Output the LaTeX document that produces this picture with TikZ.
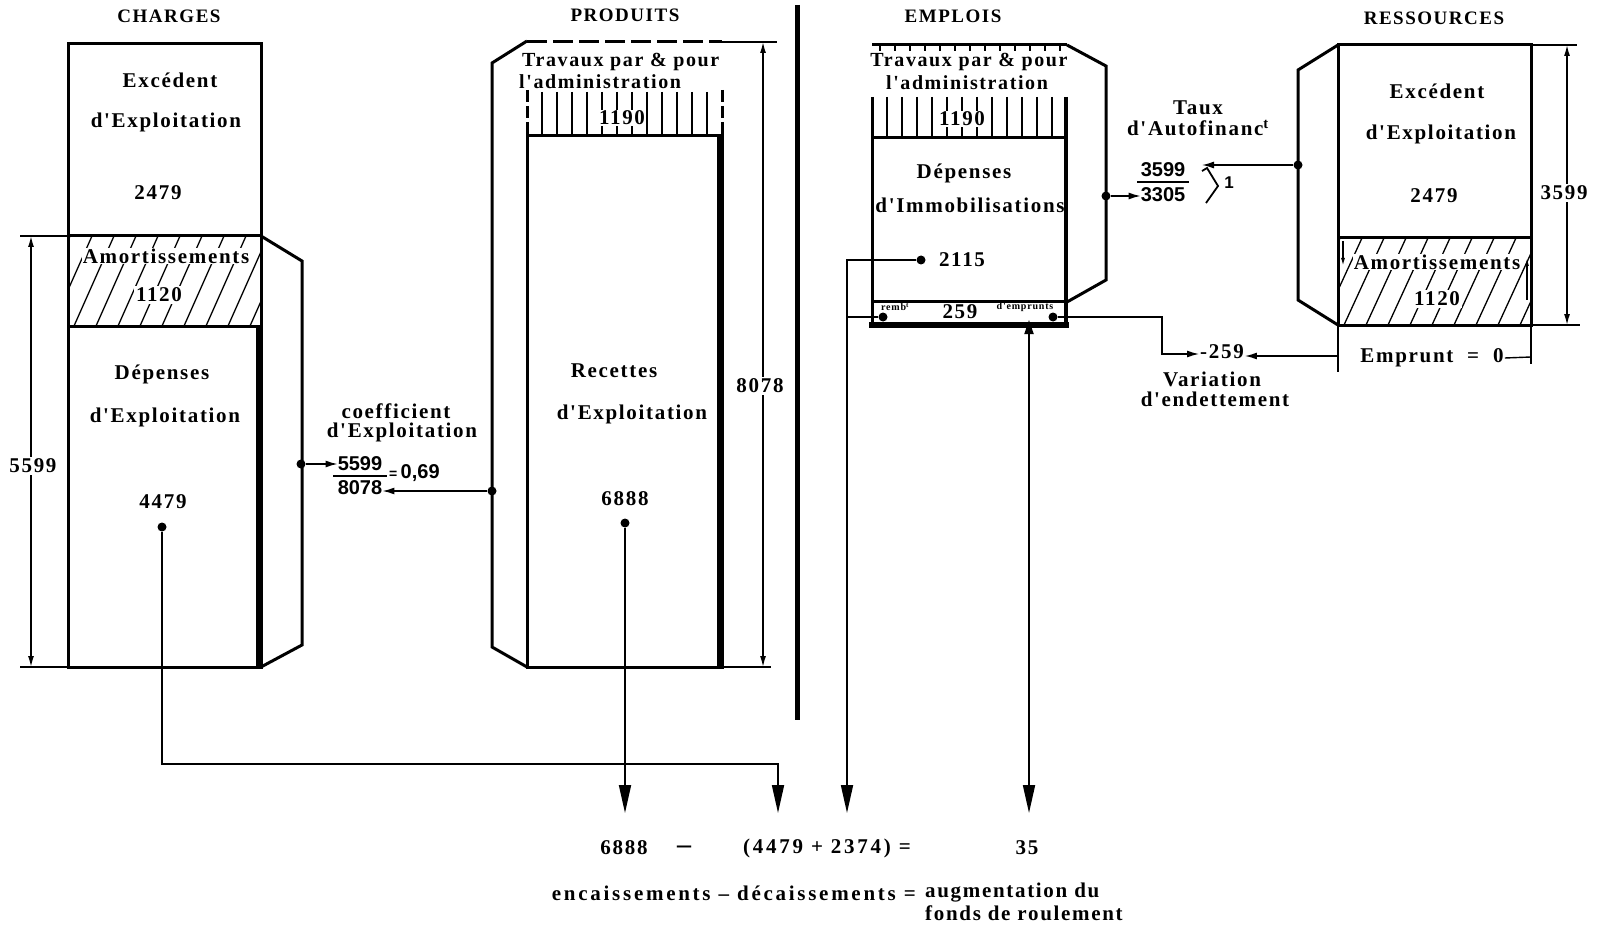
\documentclass[tikz,border=0pt]{standalone}
\usepackage{fontspec}
\setmainfont{Liberation Serif}
\newfontfamily\lab{Liberation Serif}[LetterSpace=8]
\newfontfamily\labw{Liberation Serif}[LetterSpace=13]
\newfontfamily\numf{Liberation Sans}
\usetikzlibrary{arrows.meta}
\tikzset{
 lbl/.style={font={\lab\bfseries\fontsize{21}{23}\selectfont}, inner sep=1pt},
 lbleq/.style={font={\labw\bfseries\fontsize{21}{23}\selectfont}, inner sep=1pt},
 lbls/.style={font={\lab\bfseries\fontsize{20}{22}\selectfont}, inner sep=1pt},
 lblw/.style={lbl, fill=white, inner sep=2pt},
 ttl/.style={font={\lab\bfseries\fontsize{19}{21}\selectfont}},
 fracn/.style={font={\numf\bfseries\fontsize{20}{22}\selectfont}, inner sep=0pt},
 tinyt/.style={font={\lab\bfseries\fontsize{10}{11}\selectfont}, inner sep=0pt},
 box/.style={line width=3pt, line join=miter},
 thinl/.style={line width=1.4pt},
 dimar/.style={line width=1.4pt, {Latex[length=11pt,width=6pt]}-{Latex[length=11pt,width=6pt]}},
 bigar/.style={line width=1.8pt, -{Triangle[length=28pt,width=12pt]}},
 smallar/.style={line width=1.4pt, -{Latex[length=12pt,width=7pt]}},
 dot/.style={circle, fill, inner sep=0pt, minimum size=9pt},
 hatchl/.style={line width=1.3pt},
}
\begin{document}
\begin{tikzpicture}[x=1pt,y=-1pt]
\useasboundingbox (0,0) rectangle (1606,925);

% ---------- titles
\node[ttl] (tch) at (169,16) {CHARGES};
\node[ttl] (tpr) at (625,15) {PRODUITS};
\node[ttl] (tem) at (953,16) {EMPLOIS};
\node[ttl] (tre) at (1434,18) {RESSOURCES};

% ---------- CHARGES
\begin{scope}
 \clip (68,236) rectangle (261,326);
 \foreach \x in {30,52,...,300} \draw[hatchl] (\x,326) -- (\x+40,236);
\end{scope}
\draw[box] (68,44) rectangle (261,667);
\draw[box] (68,236) -- (261,236);
\draw[box] (68,326) -- (261,326);
\draw[line width=6pt] (259,326) -- (259,667);
\draw[box] (261,236) -- (302,261) -- (302,645) -- (261,667);
\draw[thinl] (20,236) -- (68,236);
\draw[thinl] (20,667) -- (68,667);
\draw[dimar] (31,236) -- (31,667);
\node[lbl, fill=white, inner sep=2pt] (c5599) at (33,466) {5599};

\node[lbl] (cex1) at (170,80) {Excédent};
\node[lbl] (cex2) at (166,122) {d'Exploitation};
\node[lbl] (cex3) at (158,193) {2479};
\node[lblw, inner sep=1pt] (cam1) at (166,256) {Amortissements};
\node[lblw] (cam2) at (159,295) {1120};
\node[lbl] (cde1) at (162,374) {Dépenses};
\node[lbl] (cde2) at (165,417) {d'Exploitation};
\node[lbl] (cde3) at (163,502) {4479};
\node[dot] (d4479) at (162,527) {};
\node[dot] (dcha) at (301,464) {};

% ---------- coefficient
\node[lbl] (coef1) at (396,411) {coefficient};
\node[lbl] (coef2) at (402,432) {d'Exploitation};
\node[fracn] (f5599) at (360,464) {5599};
\node[fracn] (f8078) at (360,488) {8078};
\draw[line width=2pt] (333,476) -- (387,476);
\node[fracn, anchor=west] (f069) at (389,473) {{\fontsize{14}{14}\selectfont=}\,0,69};

% ---------- PRODUITS
\draw[box] (527,41) -- (492,63) -- (492,647) -- (527,667);
\draw[box, dash pattern=on 20pt off 6pt] (527,42) -- (722,42);
\draw[thinl] (722,42) -- (777,42);
\foreach \x in {542,557,...,710} \draw[thinl] (\x,92) -- (\x,136);
\draw[box, dash pattern=on 12pt off 4pt] (527,90) -- (527,136);
\draw[box, dash pattern=on 12pt off 4pt] (722,90) -- (722,136);
\draw[box] (527,136) rectangle (722,667);
\draw[line width=6pt] (720,136) -- (720,667);
\node[lbls, anchor=west] (ptr1) at (521,62) {Travaux par \& pour};
\node[lbls, anchor=west] (ptr2) at (518,82) {l'administration};
\node[lblw, inner sep=1pt] (p1190) at (622,118) {1190};
\node[lbl] (pre1) at (614,371) {Recettes};
\node[lbl] (pre2) at (632,414) {d'Exploitation};
\node[lbl] (pre3) at (625,499) {6888};
\node[dot] (d6888) at (625,523) {};
\node[dot] (dpro) at (492,491) {};
\draw[thinl] (722,667) -- (771,667);
\draw[dimar] (763,42) -- (763,667);
\node[lbl, fill=white, inner sep=2pt] (p8078) at (760,386) {8078};

% separator
\draw[line width=5pt] (797,5) -- (797,720);

% ---------- EMPLOIS
\draw[box] (872,45) -- (1067,45);
\foreach \x in {880,895,...,1060} \draw[line width=1.6pt] (\x,45) -- (\x,51);
\draw[box] (1067,45) -- (1106,66) -- (1106,280) -- (1067,302);
\foreach \x in {887,902,...,1055} \draw[thinl] (\x,97) -- (\x,138);
\draw[box] (872,97) -- (872,325);
\draw[line width=4.5pt] (1066,97) -- (1066,325);
\draw[box] (872,138) -- (1067,138);
\draw[box] (872,302) -- (1067,302);
\draw[line width=6pt] (869,325) -- (1069,325);
\node[lbls] (etr1) at (969,62) {Travaux par \& pour};
\node[lbls] (etr2) at (967,83) {l'administration};
\node[lblw, inner sep=1pt] (e1190) at (962,119) {1190};
\node[lbl] (ede1) at (964,173) {Dépenses};
\node[lbl] (ede2) at (970,205) {d'Immobilisations};
\node[lbl] (e2115) at (962,260) {2115};
\node[dot] (d2115) at (921,260) {};
\node[tinyt] (eremb) at (895,307) {remb\textsuperscript{t}};
\node[lbl] (e259) at (960,312) {259};
\node[tinyt] (eemp) at (1025,307) {d'emprunts};
\node[dot] (dremb) at (883,317) {};
\node[dot] (demp) at (1053,317) {};
\node[dot] (demd) at (1106,196) {};

% ---------- Taux d'autofinancement
\node[lbl] (ta1) at (1198,108) {Taux};
\node[lbl] (ta2) at (1198,128) {d'Autofinanc\textsuperscript{t}};
\node[fracn] (f3599) at (1163,170) {3599};
\node[fracn] (f3305) at (1163,195) {3305};
\draw[line width=2pt] (1137,182) -- (1189,182);
\draw[line width=1.8pt] (1202,171) -- (1207,168) -- (1218,186) -- (1206,203);
\node[font={\numf\bfseries\fontsize{17}{17}\selectfont}] (one) at (1229,183) {1};

% ---------- RESSOURCES
\begin{scope}
 \clip (1338,238) rectangle (1531,325);
 \foreach \x in {1300,1322,...,1560} \draw[hatchl] (\x,325) -- (\x+40,238);
\end{scope}
\draw[box] (1338,45) rectangle (1531,325);
\draw[box] (1338,238) -- (1531,238);
\draw[box] (1338,45) -- (1298,70) -- (1298,300) -- (1338,325);
\draw[thinl] (1531,45) -- (1577,45);
\draw[thinl] (1531,325) -- (1580,325);
\draw[dimar] (1567,45) -- (1567,325);
\node[lbl, fill=white, inner sep=2pt] (r3599) at (1564,193) {3599};
\node[lbl] (rex1) at (1437,91) {Excédent};
\node[lbl] (rex2) at (1441,134) {d'Exploitation};
\node[lbl] (rex3) at (1434,196) {2479};
\node[lblw, inner sep=1pt] (ram1) at (1437,262) {Amortissements};
\node[lblw] (ram2) at (1437,299) {1120};
\draw[thinl, -{Latex[length=8pt,width=4pt]}] (1343,241) -- (1343,266);
\draw[thinl, -{Latex[length=8pt,width=4pt]}] (1527,300) -- (1527,258);
\node[dot] (dres) at (1298,165) {};

% emprunt
\draw[thinl] (1338,325) -- (1338,372);
\draw[thinl] (1531,325) -- (1531,364);
\node[lbl] (remp) at (1432,358) {Emprunt\ \ =\ \ 0};
\node[lbl] (v259) at (1222,352) {-259};
\node[lbl] (var1) at (1212,379) {Variation};
\node[lbl] (var2) at (1215,399) {d'endettement};
\coordinate (empL) at (1338,356);
\draw[smallar] (empL) -- (v259.east |- empL);
\draw[thinl] (remp.east) -- (1531,357);

% ---------- connectors
\draw[smallar] (dcha) -- (f5599.west |- dcha);
\draw[smallar] (dpro) -- (f8078.east |- dpro);
\draw[smallar] (demd) -- (f3305.west |- demd);
\draw[smallar] (dres) -- (1202,165);
\coordinate (kdem) at (1162,317);
\draw[smallar] (demp) -- (kdem) -- (1162,354) -- (v259.west |- 0,354);

\coordinate (a1) at (625,813);
\coordinate (a2) at (778,813);
\coordinate (a3) at (847,813);
\coordinate (a4) at (1029,813);
\coordinate (k4479) at (778,764);
\draw[bigar] (d4479) |- (k4479) -- (a2);
\draw[bigar] (d6888) -- (a1);
\draw[bigar] (d2115) -| (a3);
\draw[line width=1.8pt] (dremb) -- (847,317);
\draw[line width=1.8pt, {Triangle[length=14pt,width=9pt]}-{Triangle[length=28pt,width=12pt]}] (1029,320) -- (a4);

% ---------- bottom equation
\node[lbl] (q1) at (624,848) {6888};
\node[font={\lab\bfseries\fontsize{28}{28}\selectfont}] (q2) at (684,850) {–};
\node[lbleq] (q3) at (827,848) {(4479 + 2374) =};
\node[lbl] (q4) at (1027,848) {35};
\node[lbleq, anchor=east] (w1) at (917,893) {encaissements – décaissements =};
\node[lbl, anchor=west] (w2) at (924,893) {augmentation du};
\node[lbl, anchor=west] (w3) at (924,913) {fonds de roulement};
\end{tikzpicture}
\end{document}
